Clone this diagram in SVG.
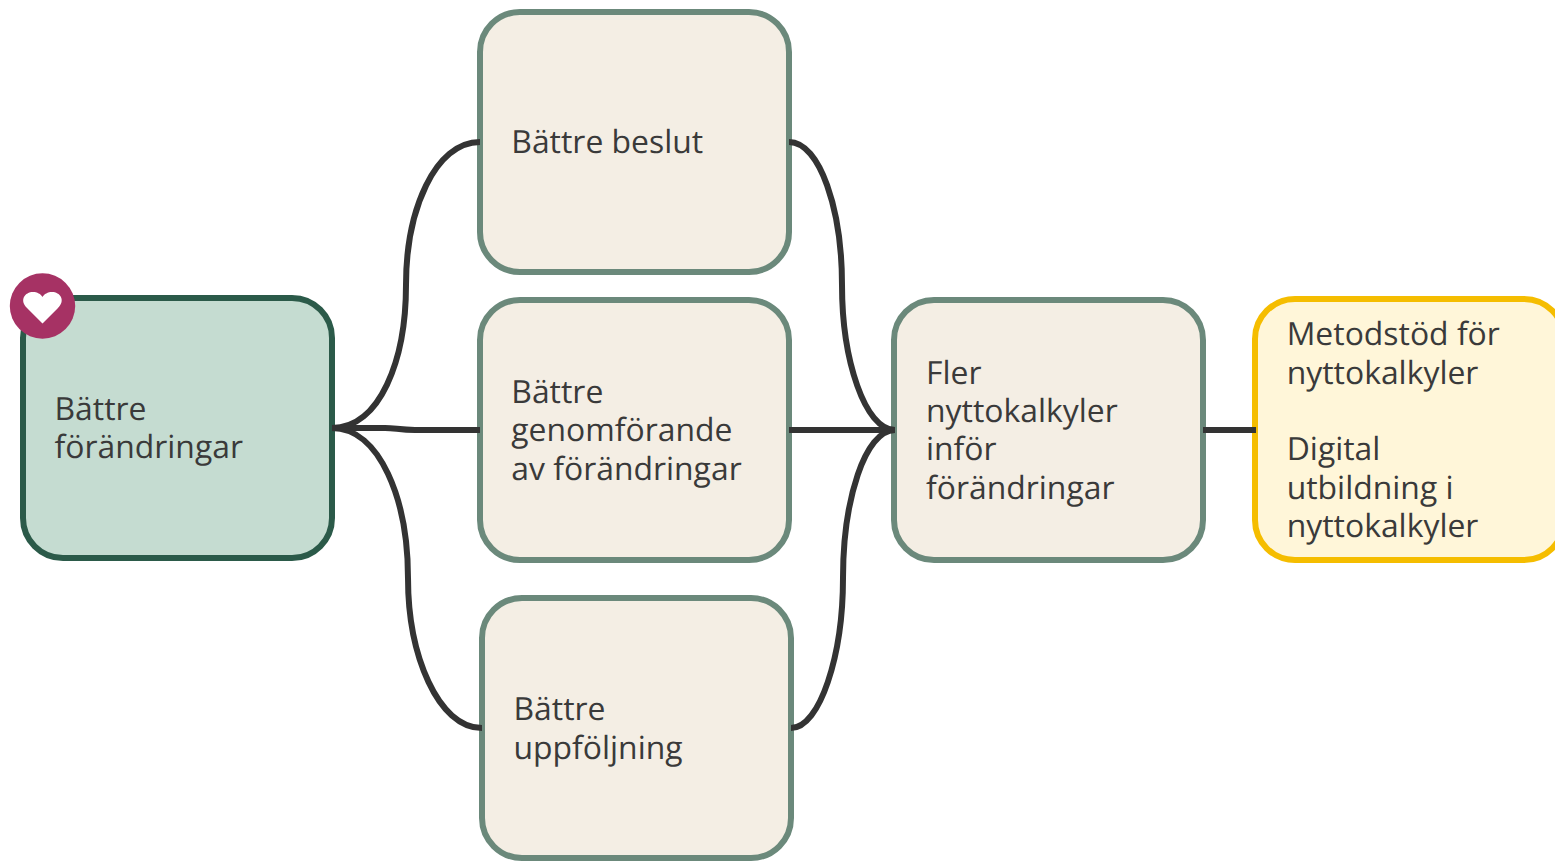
<svg xmlns="http://www.w3.org/2000/svg" width="1555" height="861" viewBox="0 0 1555 861">
<style>
.n{fill:#f4eee4;stroke:#6b897b;stroke-width:6}
.c{fill:none;stroke:#333;stroke-width:6}
text{font-family:"Open Sans","Noto Sans",sans-serif;font-size:31.9px;fill:#3a3a3a;text-rendering:geometricPrecision}
</style>
<rect width="1555" height="861" fill="#fff"/>
<g id="n1"><rect x="23" y="298" width="309" height="260" rx="40" fill="#c5dcd1" stroke="#2b5a49" stroke-width="6"/>
<text x="54.500" y="420">Bättre</text><text x="54.500" y="458.300">förändringar</text></g>
<g id="heart"><circle cx="42.500" cy="306" r="32.700" fill="#a63264"/>
<path d="M42.500 323.500L27 308C19 300 25 292 33 292C37 292 41 294 42.500 297C44 294 48 292 52 292C60 292 66 300 58 308Z" fill="#fff"/></g>
<g id="n2"><rect class="n" x="480" y="12" width="309" height="260" rx="40"/><text x="511.300" y="153">Bättre beslut</text></g>
<g id="n3"><rect class="n" x="480" y="300" width="309" height="260" rx="40"/><text x="511.300" y="403">Bättre</text><text x="511.300" y="441.300">genomförande</text><text x="511.300" y="479.700">av förändringar</text></g>
<g id="n4"><rect class="n" x="482" y="598" width="309" height="260" rx="40"/><text x="513.500" y="720">Bättre</text><text x="513.500" y="758.800">uppföljning</text></g>
<g id="n5"><rect class="n" x="894" y="300" width="309" height="260" rx="40"/><text x="926" y="384">Fler</text><text x="926" y="422.300">nyttokalkyler</text><text x="926" y="460.300">inför</text><text x="926" y="499">förändringar</text></g>
<g id="n6"><rect x="1255" y="299" width="309" height="261" rx="40" fill="#fff6d9" stroke="#f5bd00" stroke-width="6"/>
<text x="1286.700" y="345">Metodstöd för</text><text x="1286.700" y="383.700">nyttokalkyler</text><text x="1286.700" y="460.400">Digital</text><text x="1286.700" y="498.700">utbildning i</text><text x="1286.700" y="537">nyttokalkyler</text></g>
<g id="connectors">
<path class="c" d="M332 428C380 428 406 360 406 285C406 210 435 142 480 142"/>
<path class="c" d="M332 428L385 428C395 428 400 430 415 430L480 430"/>
<path class="c" d="M332 428C380 428 408 500 408 578C408 655 438 728 482 728"/>
<path class="c" d="M789 142C820 142 842 210 842 285C842 360 865 430 895 430"/>
<path class="c" d="M789 430L895 430"/>
<path class="c" d="M791 728C820 728 843 655 843 578C843 500 865 430 895 430"/>
<path class="c" d="M1203 430L1256 430"/>
</g>
</svg>
